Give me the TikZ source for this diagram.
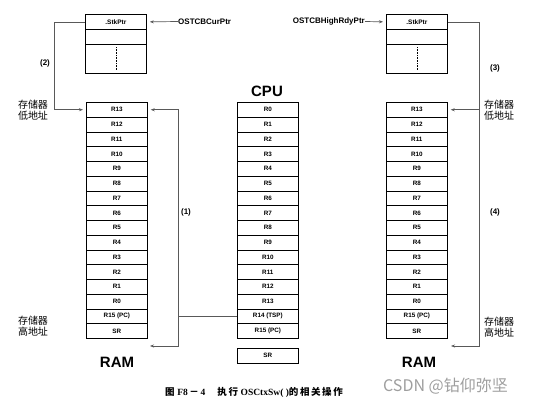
\documentclass[tikz,border=0pt]{standalone}
\usepackage{fontspec}
\setmainfont{Liberation Sans}
\setsansfont{Liberation Sans}
\newfontfamily\cjk{Noto Sans CJK SC}
\newfontfamily\capserif{Liberation Serif}
\usetikzlibrary{arrows.meta}
\begin{document}
\begin{tikzpicture}[x=1pt,y=-1pt,
  reg/.style={draw=black,line width=0.7pt,minimum width=61pt,minimum height=14.75pt,inner sep=0pt,anchor=north west,font=\fontsize{6.3}{7}\selectfont\bfseries},
  tcb/.style={draw=black,line width=0.8pt,minimum width=61pt,inner sep=0pt,anchor=north west,font=\fontsize{6.5}{7}\selectfont\bfseries},
  conn/.style={draw=black!65,line width=0.7pt},
  tip/.style={-{Stealth[length=4pt,width=3pt]},shorten >=3pt},
  lbl/.style={font=\fontsize{8}{9}\selectfont\bfseries},
  title/.style={font=\fontsize{15}{16}\selectfont\bfseries},
  addr/.style={font=\cjk\fontsize{10}{11}\selectfont,align=left}]
\useasboundingbox (0,0) rectangle (536,407);
% top TCB boxes
\node[tcb,minimum height=15pt] (LT0) at (85,14) {.StkPtr};
\node[tcb,minimum height=15pt] (LT1) at (85,29) {};
\node[tcb,minimum height=29pt] (LT2) at (85,44) {};
\draw[densely dotted,line width=0.6pt] ([yshift=-3pt]LT2.north) -- ([yshift=3pt]LT2.south);
\node[tcb,minimum height=15pt] (RT0) at (386,14) {.StkPtr};
\node[tcb,minimum height=15pt] (RT1) at (386,29) {};
\node[tcb,minimum height=29pt] (RT2) at (386,44) {};
\draw[densely dotted,line width=0.6pt] ([yshift=-3pt]RT2.north) -- ([yshift=3pt]RT2.south);
% pointers
\node[lbl,anchor=west,inner sep=0pt] (cur) at (178,21.5) {OSTCBCurPtr};
\node[lbl,anchor=east,inner sep=0pt] (high) at (365,21.5) {OSTCBHighRdyPtr};
\draw[conn,tip] (cur.west) -- (LT0.east);
\draw[conn,tip] (high.east) -- (RT0.west);
% RAM columns and CPU
\foreach \t [count=\i from 0] in {R13,R12,R11,R10,R9,R8,R7,R6,R5,R4,R3,R2,R1,R0,{R15 (PC)},SR}{
  \node[reg] (L\i) at (86,{102+\i*14.75}) {\t};
  \node[reg] (R\i) at (386,{102+\i*14.75}) {\t};
}
\foreach \t [count=\i from 0] in {R0,R1,R2,R3,R4,R5,R6,R7,R8,R9,R10,R11,R12,R13,{R14 (TSP)},{R15 (PC)}}{
  \node[reg] (C\i) at (237,{102+\i*14.75}) {\t};
}
\node[reg] (CSR) at (237,348) {SR};
% titles
\node[title] (cpu) at (267,91) {CPU};
\node[title] (ramL) at (117,362) {RAM};
\node[title] (ramR) at (419,362) {RAM};
% address labels
\node[addr] (lowL) at (33,110) {存储器\\低地址};
\node[addr] (highL) at (33,326) {存储器\\高地址};
\node[addr] (lowR) at (499,110) {存储器\\低地址};
\node[addr] (highR) at (499,327) {存储器\\高地址};
% connector coordinates
\coordinate (c2) at (54,0);
\coordinate (c1) at (178,0);
\coordinate (c3) at (479,0);
\coordinate (b1) at (150,346);
\coordinate (b3) at (451,346);
% (2)
\draw[conn,tip] (LT0.west) -- (LT0.west -| c2) -- (L0.west -| c2) -- (L0.west);
\node[lbl] (n2) at (45,63) {(2)};
% (1)
\draw[conn] (C14.west) -- (C14.west -| c1);
\draw[conn,{Stealth[length=4pt,width=3pt]}-{Stealth[length=4pt,width=3pt]},shorten <=3pt] (L0.east) -- (L0.east -| c1) -- (b1 -| c1) -- (b1);
\node[lbl] (n1) at (186,212) {(1)};
% (3) and (4)
\draw[conn] (RT0.east) -- (RT0.east -| c3) -- (R0.east -| c3);
\draw[conn,{Stealth[length=4pt,width=3pt]}-{Stealth[length=4pt,width=3pt]},shorten <=3pt] (R0.east) -- (R0.east -| c3) -- (b3 -| c3) -- (b3);
\node[lbl] (n3) at (495,68) {(3)};
\node[lbl] (n4) at (495,212) {(4)};
% caption
\node[font=\fontsize{9.5}{11}\selectfont\bfseries,anchor=west,inner sep=0pt] (cap) at (165,392) {{\cjk 图} {\capserif F8}\,{\cjk －}\,{\capserif 4}\quad\ {\cjk 执\,行} {\capserif OSCtxSw( )}{\cjk 的\,相\,关\,操\,作}};
\node[font=\cjk\fontsize{16}{18}\selectfont,text=black!38,anchor=west,inner sep=0pt] (wm) at (383,386) {CSDN @钻仰弥坚};
\end{tikzpicture}
\end{document}
